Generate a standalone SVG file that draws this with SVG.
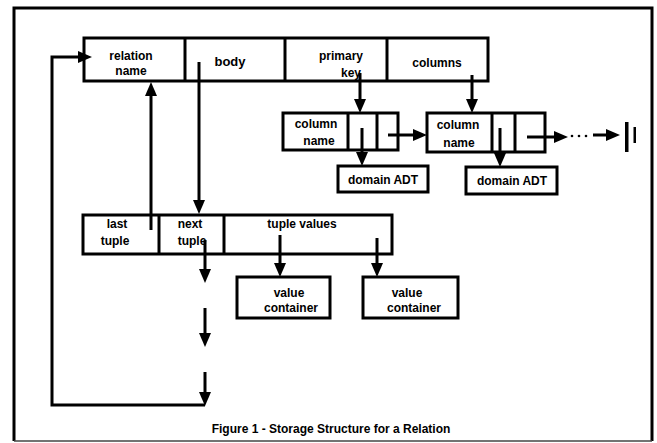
<svg xmlns="http://www.w3.org/2000/svg" width="657" height="443" viewBox="0 0 657 443">
<style>
.box{fill:#fff;stroke:#000;stroke-width:3}
.div{stroke:#000;stroke-width:3}
.t{font-family:"Liberation Sans",Arial,sans-serif;font-weight:bold;font-size:12px;text-anchor:middle;fill:#000}
.c{fill:none;stroke:#000;stroke-width:3}
.a{fill:none;stroke:#000;stroke-width:3;marker-end:url(#ah)}
</style>
<defs>
<marker id="ah" viewBox="0 0 14 12" refX="4" refY="6" markerWidth="14" markerHeight="12" markerUnits="userSpaceOnUse" orient="auto">
<path d="M0,0 L14,6 L0,12 z" fill="#000"/>
</marker>
</defs>
<rect width="657" height="443" fill="#fff"/>
<g id="frame">
<path d="M14,441 V8 H652 V441" fill="none" stroke="#000" stroke-width="3"/>
<line x1="14" y1="441" x2="652" y2="441" stroke="#444" stroke-width="1.5"/>
</g>
<g id="relation">
<rect class="box" x="84" y="38" width="404" height="43"/>
<line class="div" x1="185" y1="38" x2="185" y2="81"/>
<line class="div" x1="285" y1="38" x2="285" y2="81"/>
<line class="div" x1="387" y1="38" x2="387" y2="81"/>
<text class="t" x="131" y="60">relation</text>
<text class="t" x="131" y="75">name</text>
<text class="t" x="230" y="66" style="font-size:13px">body</text>
<text class="t" x="341" y="60">primary</text>
<text class="t" x="351" y="77">key</text>
<text class="t" x="437" y="67">columns</text>
</g>
<g id="column1">
<rect class="box" x="283" y="113" width="115" height="37"/>
<line class="div" x1="348" y1="113" x2="348" y2="150"/>
<line class="div" x1="377" y1="113" x2="377" y2="150"/>
<text class="t" x="316" y="128">column</text>
<text class="t" x="319" y="145">name</text>
</g>
<g id="column2">
<rect class="box" x="427" y="113" width="118" height="39"/>
<line class="div" x1="492" y1="113" x2="492" y2="152"/>
<line class="div" x1="515" y1="113" x2="515" y2="152"/>
<text class="t" x="458" y="129">column</text>
<text class="t" x="459" y="147">name</text>
</g>
<g id="domain1">
<rect class="box" x="338" y="166" width="90" height="26"/>
<text class="t" x="383" y="184">domain ADT</text>
</g>
<g id="domain2">
<rect class="box" x="466" y="167" width="91" height="27"/>
<text class="t" x="512" y="185">domain ADT</text>
</g>
<g id="tuple">
<rect class="box" x="83" y="215" width="309" height="39"/>
<line class="div" x1="159" y1="215" x2="159" y2="254"/>
<line class="div" x1="224" y1="215" x2="224" y2="254"/>
<text class="t" x="117" y="228">last</text>
<text class="t" x="115" y="245">tuple</text>
<text class="t" x="190" y="228">next</text>
<text class="t" x="192" y="245">tuple</text>
<text class="t" x="302" y="228">tuple values</text>
</g>
<g id="value1">
<rect class="box" x="237" y="277" width="93" height="41"/>
<text class="t" x="289" y="297">value</text>
<text class="t" x="291" y="312">container</text>
</g>
<g id="value2">
<rect class="box" x="363" y="277" width="95" height="41"/>
<text class="t" x="407" y="297">value</text>
<text class="t" x="414" y="312">container</text>
</g>
<g id="nil">
<rect x="625" y="122" width="3.5" height="30" fill="#000"/>
<rect x="633.5" y="127" width="2.5" height="16" fill="#000"/>
</g>
<g id="connectors">
<line class="a" x1="199" y1="62" x2="199" y2="204"/>
<line class="a" x1="151" y1="230" x2="151" y2="92"/>
<line class="a" x1="360" y1="73" x2="360" y2="103"/>
<line class="a" x1="472" y1="75" x2="472" y2="103"/>
<line class="a" x1="362" y1="128" x2="362" y2="156"/>
<line class="a" x1="388" y1="135" x2="417" y2="135"/>
<line class="a" x1="500" y1="128" x2="500" y2="157"/>
<line class="a" x1="527" y1="137" x2="558" y2="137"/>
<g fill="#000"><circle cx="572" cy="136" r="1.3"/><circle cx="579" cy="136" r="1.3"/><circle cx="586" cy="136" r="1.3"/></g>
<line class="a" x1="593" y1="135" x2="610" y2="135"/>
<line class="a" x1="280" y1="235" x2="280" y2="267"/>
<line class="a" x1="377" y1="238" x2="377" y2="267"/>
<line class="a" x1="205" y1="240" x2="205" y2="273"/>
<line class="a" x1="205" y1="308" x2="205" y2="337"/>
<line class="a" x1="205" y1="372" x2="205" y2="396"/>
<path class="a" d="M205,405 H52 V57 H82"/>
</g>
<text class="t" x="331" y="433" style="font-size:12px">Figure 1 - Storage Structure for a Relation</text>
</svg>
